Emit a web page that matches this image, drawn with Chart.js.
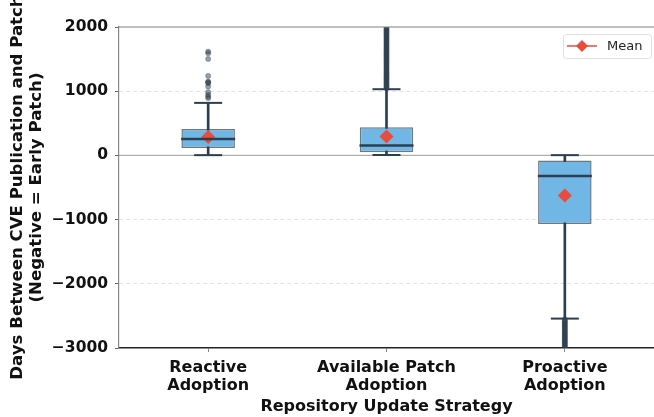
<!DOCTYPE html>
<html>
<head>
<meta charset="utf-8">
<script src="https://cdn.jsdelivr.net/npm/chart.js@4.4.1/dist/chart.umd.min.js"></script>
<style>
  html, body { margin: 0; padding: 0; background: #fff; }
  #wrap { width: 654px; height: 417px; }
</style>
</head>
<body>
<div id="wrap"><canvas id="boxChart" width="654" height="417"></canvas></div>
<script>
// Categories and box statistics (days)
const categories = ['Reactive Adoption', 'Available Patch Adoption', 'Proactive Adoption'];
const tickLabels = [['Reactive', 'Adoption'], ['Available Patch', 'Adoption'], ['Proactive', 'Adoption']];
const whiskerLow = [4, 6, -2542];
const q1 = [117, 50, -1067];
const median = [257, 153, -320];
const q3 = [413, 439, -80];
const whiskerHigh = [818, 1031, 4];
const means = [288, 293, -626];

// Outliers (the two dense columns run past the axis limits)
const reactiveOutliers = [891, 916, 945, 985, 1072, 1125, 1140, 1150, 1238, 1503, 1592, 1617];
const availableOutliers = [1045, 1058, 1072, 1090, 1104, 1121, 1137, 1150, 1168, 1185, 1199, 1216, 1232, 1250,
  1263, 1281, 1297, 1315, 1330, 1346, 1362, 1380, 1394, 1411, 1428, 1443, 1460, 1475, 1492, 1510, 1524, 1541,
  1558, 1573, 1590, 1607, 1622, 1640, 1655, 1671, 1688, 1703, 1721, 1736, 1752, 1769, 1785, 1800, 1818, 1834,
  1850, 1866, 1883, 1898, 1915, 1931, 1948, 1963, 1980, 1996, 2050, 2200];
const proactiveOutliers = [-2555, -2570, -2588, -2604, -2621, -2637, -2652, -2670, -2686, -2703, -2719, -2735,
  -2752, -2768, -2784, -2801, -2817, -2833, -2850, -2866, -2882, -2899, -2915, -2931, -2948, -2964, -2980,
  -2996, -3100];

const yTicks = [2000, 1000, 0, -1000, -2000, -3000];

const navy = '#2c3e50';
const boldFont = { family: 'DejaVu Sans', size: 16, weight: 'bold' };

const outlierPoints = [];
[reactiveOutliers, availableOutliers, proactiveOutliers].forEach((list, i) => {
    list.forEach(v => outlierPoints.push({ x: categories[i], y: v }));
});

// zero line, top spine and the "Mean" legend box
const extras = {
    id: 'extras',
    beforeDatasetsDraw(chart) {
        const { ctx, chartArea, scales } = chart;
        const y0 = scales.y.getPixelForValue(0);
        ctx.save();
        ctx.strokeStyle = 'rgba(120,120,120,0.6)';
        ctx.lineWidth = 1.2;
        ctx.beginPath();
        ctx.moveTo(chartArea.left, y0);
        ctx.lineTo(chartArea.right, y0);
        ctx.stroke();
        ctx.restore();
    },
    afterDraw(chart) {
        const { ctx, chartArea, scales } = chart;
        const yTop = scales.y.getPixelForValue(2000);
        ctx.save();
        ctx.strokeStyle = '#808080';
        ctx.lineWidth = 1.2;
        ctx.beginPath();
        ctx.moveTo(chartArea.left, yTop);
        ctx.lineTo(chartArea.right, yTop);
        ctx.stroke();

        // legend
        const bx = 563, by = 34, bw = 88, bh = 24;
        ctx.fillStyle = 'rgba(255,255,255,0.85)';
        ctx.strokeStyle = '#e0e0e0';
        ctx.lineWidth = 1;
        ctx.beginPath();
        ctx.roundRect(bx + 0.5, by + 0.5, bw, bh, 3);
        ctx.fill();
        ctx.stroke();
        const ly = by + bh / 2;
        ctx.strokeStyle = '#e74c3c';
        ctx.lineWidth = 1.5;
        ctx.beginPath();
        ctx.moveTo(567, ly);
        ctx.lineTo(597, ly);
        ctx.stroke();
        ctx.fillStyle = '#e74c3c';
        ctx.beginPath();
        ctx.moveTo(582 - 6, ly);
        ctx.lineTo(582, ly - 6);
        ctx.lineTo(582 + 6, ly);
        ctx.lineTo(582, ly + 6);
        ctx.closePath();
        ctx.fill();
        ctx.fillStyle = '#222';
        ctx.font = '13px "DejaVu Sans"';
        ctx.textBaseline = 'middle';
        ctx.fillText('Mean', 607, ly + 1);
        ctx.restore();
    }
};

const ctx = document.getElementById('boxChart').getContext('2d');
const boxChart = new Chart(ctx, {
    type: 'bar',
    data: {
        labels: categories,
        datasets: [
            {
                // whisker stems
                type: 'bar',
                data: categories.map((c, i) => [whiskerLow[i], whiskerHigh[i]]),
                backgroundColor: navy,
                barThickness: 2,
                grouped: false,
                order: 6
            },
            {
                // boxes (Q1 - Q3)
                type: 'bar',
                data: categories.map((c, i) => [q1[i], q3[i]]),
                backgroundColor: '#71b7e6',
                borderColor: 'rgba(44,62,80,0.7)',
                borderWidth: 1.5,
                borderSkipped: false,
                barPercentage: 0.3,
                categoryPercentage: 1.0,
                grouped: false,
                order: 5
            },
            {
                // whisker caps
                type: 'line',
                data: whiskerLow,
                showLine: false,
                pointStyle: 'line',
                pointRadius: 14,
                borderColor: navy,
                borderWidth: 2,
                order: 4
            },
            {
                type: 'line',
                data: whiskerHigh,
                showLine: false,
                pointStyle: 'line',
                pointRadius: 14,
                borderColor: navy,
                borderWidth: 2,
                order: 4
            },
            {
                // outliers
                type: 'line',
                data: outlierPoints,
                showLine: false,
                pointStyle: 'circle',
                pointRadius: 2.6,
                backgroundColor: 'rgba(44,62,80,0.5)',
                borderColor: 'rgba(44,62,80,0.5)',
                borderWidth: 0.5,
                clip: 0,
                order: 3
            },
            {
                // means
                type: 'line',
                label: 'Mean',
                data: means,
                showLine: false,
                pointStyle: 'rectRot',
                pointRadius: 7,
                backgroundColor: '#e74c3c',
                borderColor: '#e74c3c',
                borderWidth: 0,
                order: 2
            },
            {
                // medians
                type: 'line',
                data: median,
                showLine: false,
                pointStyle: 'line',
                pointRadius: 27,
                borderColor: navy,
                borderWidth: 2.5,
                order: 1
            }
        ]
    },
    options: {
        responsive: false,
        animation: false,
        events: [],
        layout: { autoPadding: false, padding: { top: 27, right: -5, left: 0, bottom: 0 } },
        plugins: {
            legend: { display: false },
            tooltip: { enabled: false }
        },
        scales: {
            x: {
                offset: true,
                grid: { offset: false, drawOnChartArea: false, drawTicks: true, tickLength: 4, tickColor: '#888', tickWidth: 1 },
                border: { display: true, color: '#222', width: 1.5 },
                ticks: {
                    color: '#111',
                    font: Object.assign({ lineHeight: 1.125 }, boldFont),
                    padding: 7,
                    maxRotation: 0,
                    autoSkip: false,
                    callback: (v, i) => tickLabels[i]
                },
                title: {
                    display: true,
                    text: 'Repository Update Strategy',
                    color: '#111',
                    font: Object.assign({ lineHeight: 1.2 }, boldFont),
                    padding: { top: 0, bottom: 1 }
                },
                afterFit: scale => {
                    scale.height = 69;
                    scale.paddingLeft = 0;
                    scale.paddingRight = 0;
                }
            },
            y: {
                min: -3000,
                max: 2000,
                afterBuildTicks: scale => { scale.ticks = yTicks.map(v => ({ value: v })); },
                grid: {
                    color: c => (c.tick && (c.tick.value === 0 || c.tick.value === 2000 || c.tick.value === -3000)) ? 'rgba(0,0,0,0)' : '#e3e3e3',
                    lineWidth: 1,
                    tickLength: 4,
                    tickColor: '#666',
                    tickWidth: 1
                },
                border: { display: true, color: '#888', width: 1.2, dash: [4, 3] },
                ticks: {
                    color: '#111',
                    font: { family: 'DejaVu Sans', size: 15.5, weight: 'bold' },
                    padding: 7,
                    callback: v => String(v).replace('-', '\u2212')
                },
                title: {
                    display: true,
                    text: ['Days Between CVE Publication and Patch', '(Negative = Early Patch)'],
                    color: '#111',
                    font: { family: 'DejaVu Sans', size: 16.6, weight: 'bold', lineHeight: 1.15 },
                    padding: { top: 8, bottom: 0 }
                },
                afterFit: scale => { scale.width = 119; }
            }
        }
    },
    plugins: [extras]
});
</script>
</body>
</html>
